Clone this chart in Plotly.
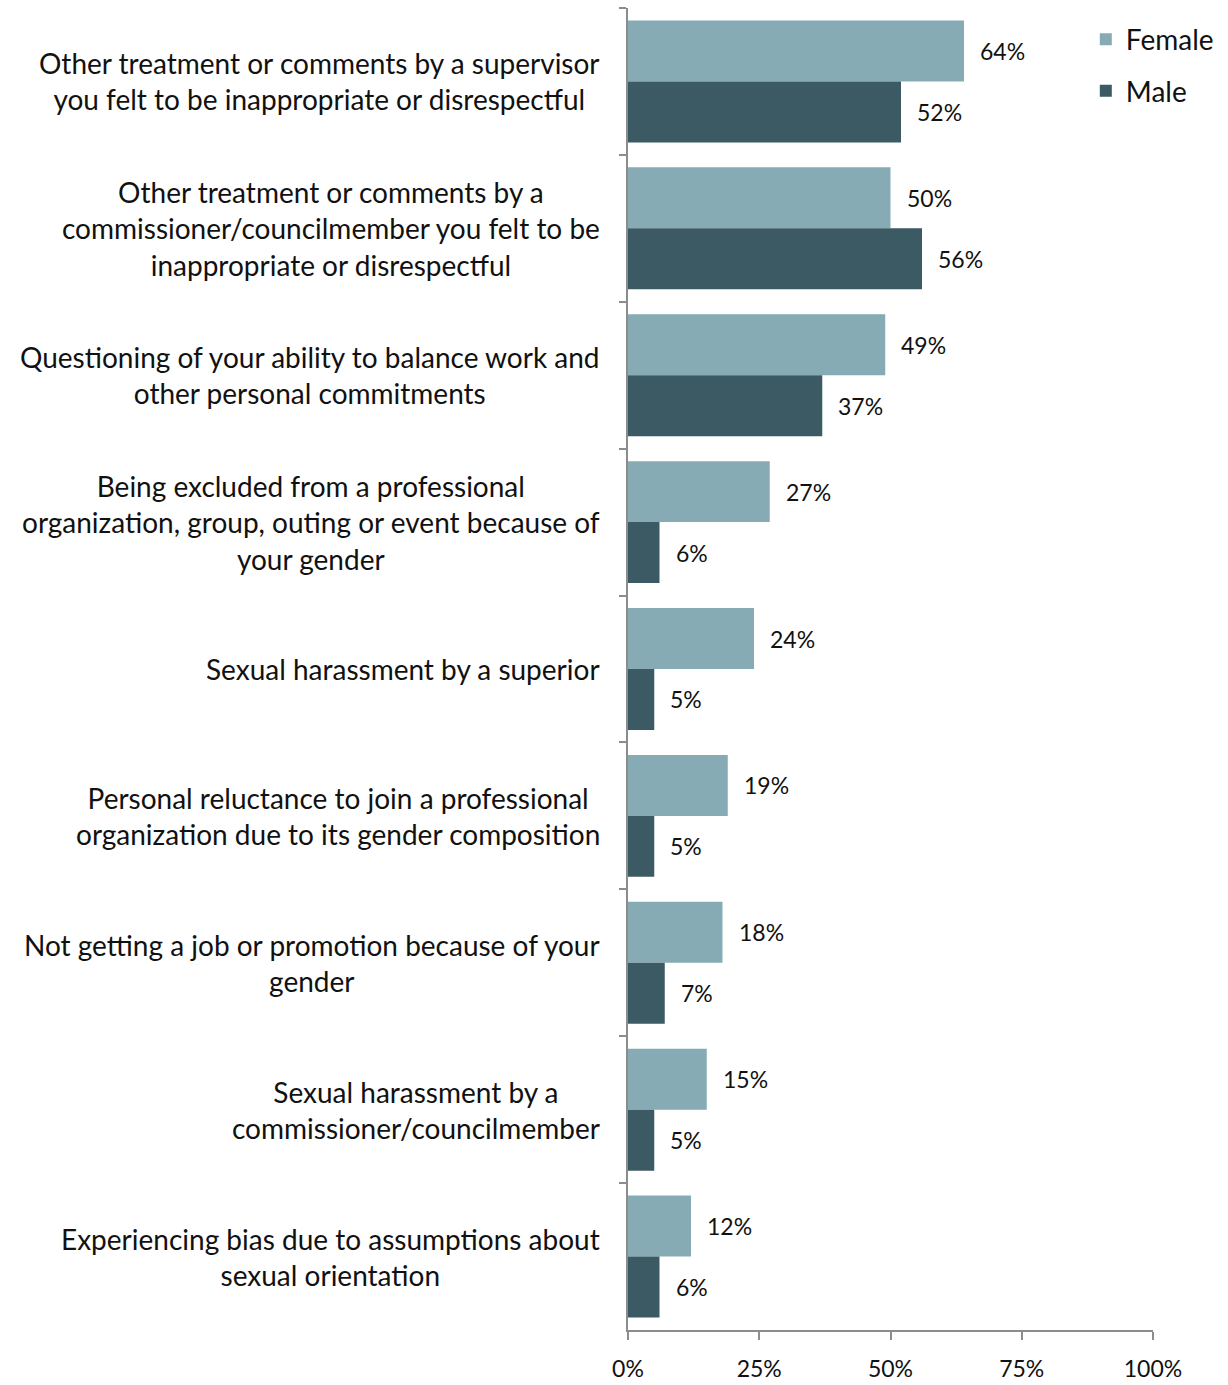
import plotly.graph_objects as go

categories = [
    "Other treatment or comments by a supervisor<br>you felt to be inappropriate or disrespectful",
    "Other treatment or comments by a<br>commissioner/councilmember you felt to be<br>inappropriate or disrespectful",
    "Questioning of your ability to balance work and<br>other personal commitments",
    "Being excluded from a professional<br>organization, group, outing or event because of<br>your gender",
    "Sexual harassment by a superior",
    "Personal reluctance to join a professional<br>organization due to its gender composition",
    "Not getting a job or promotion because of your<br>gender",
    "Sexual harassment by a<br>commissioner/councilmember",
    "Experiencing bias due to assumptions about<br>sexual orientation",
]
female = [64, 50, 49, 27, 24, 19, 18, 15, 12]
male = [52, 56, 37, 6, 5, 5, 7, 5, 6]
x_ticks = [0, 25, 50, 75, 100]
x_tick_labels = ["0%", "25%", "50%", "75%", "100%"]

FEMALE_COLOR = "#86ABB5"
MALE_COLOR = "#3B5A64"
AXIS_COLOR = "#8C8C8C"
TEXT_COLOR = "#111111"
FONT = "Lato"
BARGAP = 0.17

fig = go.Figure()
fig.add_trace(go.Bar(
    y=categories, x=female, orientation="h", name="Female",
    marker=dict(color=FEMALE_COLOR, line=dict(width=0)),
    legendgroup="f",
))
fig.add_trace(go.Bar(
    y=categories, x=male, orientation="h", name="Male",
    marker=dict(color=MALE_COLOR, line=dict(width=0)),
    legendgroup="m",
))

annotations = []
half = (1 - BARGAP) / 4  # centre offset of each bar within a group
for i, cat in enumerate(categories):
    # category label, lines centred, block right-aligned to the axis
    annotations.append(dict(
        x=0, xref="paper", xanchor="right", xshift=-26,
        y=i, yref="y", yanchor="middle",
        text=cat, showarrow=False, align="center",
        font=dict(family=FONT, size=28, color=TEXT_COLOR),
    ))
    for val, off in ((female[i], -half), (male[i], half)):
        annotations.append(dict(
            x=val, xref="x", xanchor="left", xshift=14,
            y=i + off, yref="y", yanchor="middle",
            text=f"{val}%", showarrow=False,
            font=dict(family=FONT, size=23, color=TEXT_COLOR),
        ))

fig.update_layout(
    width=1228, height=1385,
    margin=dict(l=628, r=75, t=8, b=55, autoexpand=False),
    paper_bgcolor="white", plot_bgcolor="white",
    barmode="group", bargap=BARGAP, bargroupgap=0,
    font=dict(family=FONT, size=23, color=TEXT_COLOR),
    showlegend=True,
    legend=dict(
        x=0.872, xanchor="left", y=0.995, yanchor="top",
        traceorder="grouped", tracegroupgap=12,
        font=dict(family=FONT, size=28, color=TEXT_COLOR),
        bgcolor="rgba(0,0,0,0)",
    ),
    annotations=annotations,
    xaxis=dict(
        range=[0, 100], tickvals=x_ticks, ticktext=x_tick_labels,
        showgrid=False, zeroline=False, automargin=False,
        showline=True, linecolor=AXIS_COLOR, linewidth=2,
        ticks="outside", ticklen=8, tickwidth=2, tickcolor=AXIS_COLOR,
        ticklabelstandoff=9,
        tickfont=dict(family=FONT, size=23, color=TEXT_COLOR),
    ),
    yaxis=dict(
        type="category", autorange="reversed", automargin=False,
        showticklabels=False, showgrid=False, zeroline=False,
        showline=True, linecolor=AXIS_COLOR, linewidth=2,
        ticks="outside", ticklen=7, tickwidth=2, tickcolor=AXIS_COLOR,
        tickson="boundaries",
    ),
)

fig.write_html("out.html")
